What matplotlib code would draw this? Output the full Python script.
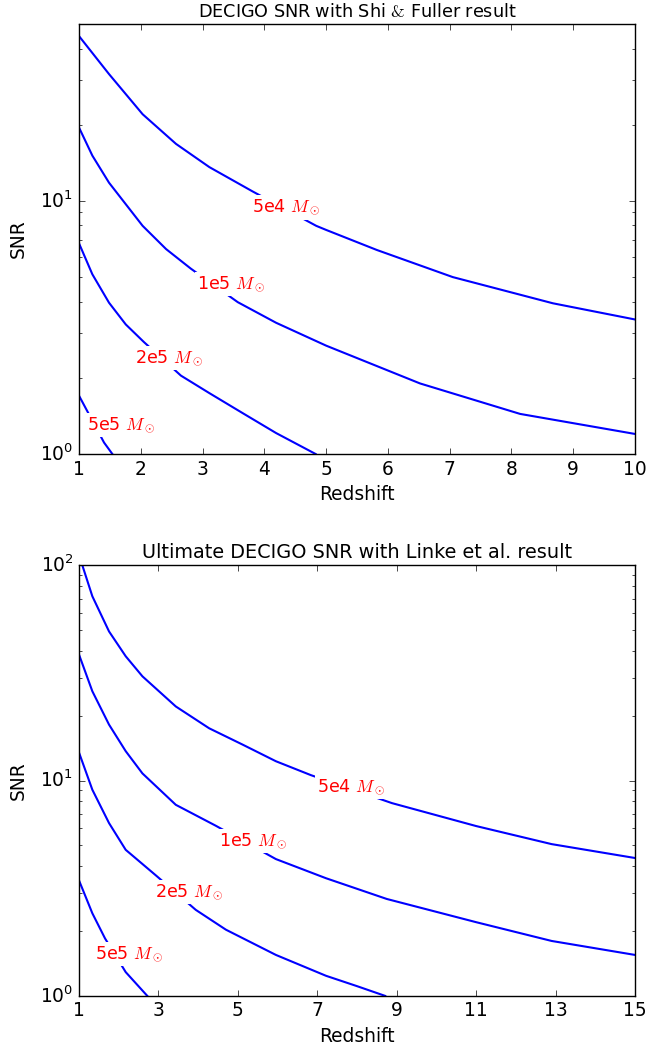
import matplotlib
matplotlib.use('Agg')
from matplotlib import pyplot as plt

plt.style.use('classic')

# --- top panel: DECIGO, Shi & Fuller ---
top_z_5e4 = [1.0, 1.486, 2.03, 2.57, 3.11, 3.81, 4.84, 5.0, 5.82, 7.05, 8.67, 10.0]
top_snr_5e4 = [44.8, 31.7, 22.0, 16.8, 13.6, 10.9, 7.97, 7.68, 6.4, 5.0, 3.94, 3.40]
top_z_1e5 = [1.0, 1.216, 1.486, 2.03, 2.41, 2.81, 3.57, 4.19, 5.0, 6.52, 8.14, 10.0]
top_snr_1e5 = [19.5, 15.1, 11.8, 7.97, 6.45, 5.40, 3.98, 3.30, 2.68, 1.90, 1.44, 1.20]
top_z_2e5 = [1.0, 1.216, 1.486, 1.757, 2.05, 2.65, 3.11, 3.65, 4.19, 4.83]
top_snr_2e5 = [6.80, 5.13, 3.96, 3.25, 2.77, 2.04, 1.74, 1.45, 1.21, 1.0]
top_z_5e5 = [1.0, 1.119, 1.405, 1.54]
top_snr_5e5 = [1.70, 1.50, 1.11, 1.0]

# --- bottom panel: ultimate DECIGO, Linke et al. ---
bot_z_5e4 = [1.0, 1.084, 1.336, 1.756, 2.176, 2.597, 3.437, 4.277, 5.118, 5.958,
             6.84, 8.88, 11.0, 12.9, 15.0]
bot_snr_5e4 = [112, 100, 71.8, 49.3, 37.8, 30.5, 22.1, 17.5, 14.7, 12.3,
               10.6, 7.86, 6.15, 5.07, 4.37]
bot_z_1e5 = [1.0, 1.336, 1.756, 2.176, 2.597, 3.437, 4.445, 5.958, 7.22, 8.75,
             11.0, 12.9, 15.0]
bot_snr_1e5 = [38.5, 26.0, 18.2, 13.7, 10.8, 7.72, 6.17, 4.32, 3.52, 2.82,
               2.20, 1.80, 1.55]
bot_z_2e5 = [1.0, 1.336, 1.756, 2.176, 2.95, 3.94, 4.70, 5.958, 7.22, 8.0, 8.71]
bot_snr_2e5 = [13.5, 9.07, 6.35, 4.77, 3.61, 2.51, 2.03, 1.55, 1.24, 1.11, 1.0]
bot_z_5e5 = [1.0, 1.336, 1.655, 2.176, 2.72]
bot_snr_5e5 = [3.44, 2.42, 1.85, 1.29, 1.0]

label_text = ['5e4', '1e5', '2e5', '5e5']
top_label_z = [4.36, 3.46, 2.454, 1.676]
top_label_snr = [9.42, 4.71, 2.39, 1.30]
bot_label_z = [7.85, 5.378, 3.765, 2.27]
bot_label_snr = [9.36, 5.25, 3.03, 1.57]


def draw_panel(ax, curves, label_z, label_snr, xlim, ylim, xticks, title, title_size):
    for z, snr in curves:
        ax.plot(z, snr, color='b', lw=1.5)
    for txt, lz, ls in zip(label_text, label_z, label_snr):
        ax.text(lz, ls, txt + r' $M_\odot$', color='r', fontsize=12.6,
                ha='center', va='center',
                bbox=dict(facecolor='white', edgecolor='none', pad=1.5))
    ax.set_yscale('log')
    ax.set_xlim(*xlim)
    ax.set_ylim(*ylim)
    ax.set_xticks(xticks)
    ax.tick_params(labelsize=13.4)
    ax.set_xlabel('Redshift', fontsize=13.4)
    ax.set_ylabel('SNR', fontsize=13.4, labelpad=9)
    ax.set_title(title, fontsize=title_size)


fig = plt.figure(figsize=(6.47, 10.48), dpi=100, facecolor='white')
ax1 = fig.add_axes([0.1221, 0.5668, 0.8594, 0.4103])
ax2 = fig.add_axes([0.1221, 0.0497, 0.8594, 0.4109])

draw_panel(ax1,
           [(top_z_5e4, top_snr_5e4), (top_z_1e5, top_snr_1e5),
            (top_z_2e5, top_snr_2e5), (top_z_5e5, top_snr_5e5)],
           top_label_z, top_label_snr, (1, 10), (1, 50), range(1, 11),
           r'DECIGO SNR with Shi $&$ Fuller result', 12.7)
draw_panel(ax2,
           [(bot_z_5e4, bot_snr_5e4), (bot_z_1e5, bot_snr_1e5),
            (bot_z_2e5, bot_snr_2e5), (bot_z_5e5, bot_snr_5e5)],
           bot_label_z, bot_label_snr, (1, 15), (1, 100), range(1, 16, 2),
           'Ultimate DECIGO SNR with Linke et al. result', 13.9)

fig.savefig('out.png', dpi=100, facecolor='white')
